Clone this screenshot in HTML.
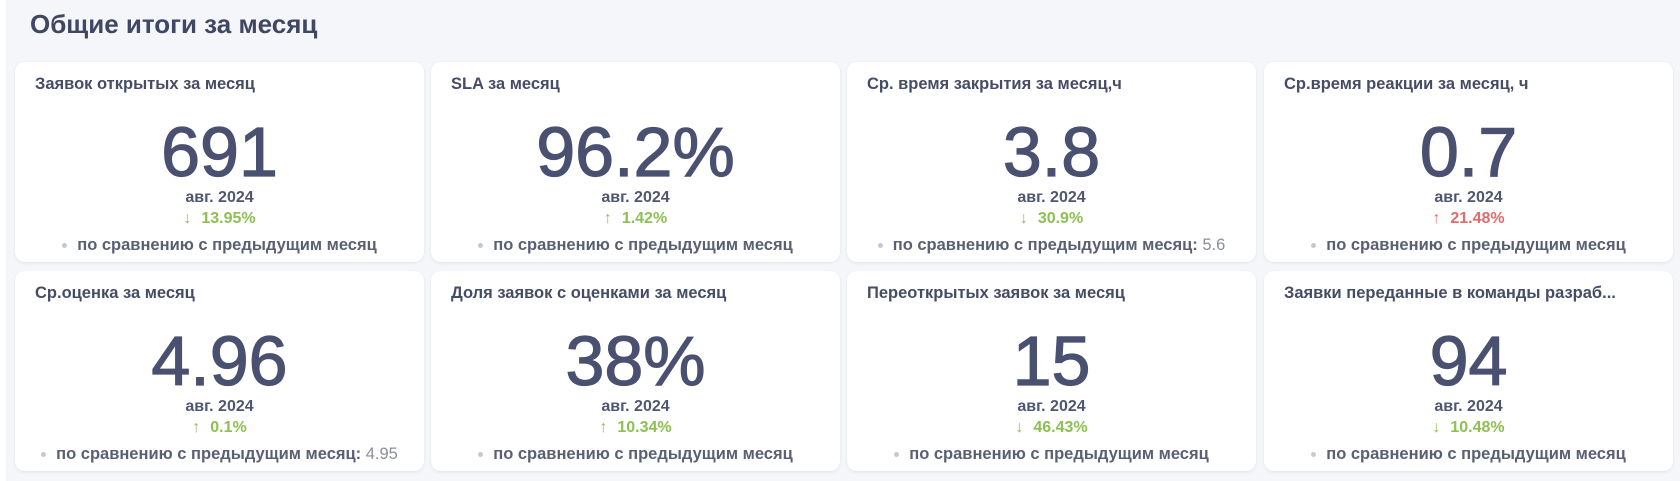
<!DOCTYPE html>
<html><head><meta charset="utf-8"><style>
body{margin:0;width:1680px;height:481px;background:#fff;font-family:"Liberation Sans","Noto Sans CJK SC",sans-serif;overflow:hidden}
.panel{position:absolute;left:6px;top:0;width:1674px;height:481px;background:#f4f6f9}
h1{position:absolute;left:30px;top:9px;margin:0;font-size:26px;font-weight:bold;color:#3f4763}
.card{position:absolute;width:409px;height:200px;background:#fff;border-radius:10px;box-shadow:0 1px 3px rgba(0,0,0,.08)}
.t{position:absolute;left:20px;top:13px;font-size:16.5px;font-weight:bold;color:#454c66;white-space:nowrap}
.n{position:absolute;left:0;right:0;top:50px;text-align:center;font-size:70px;color:#4a5170;line-height:80px;-webkit-text-stroke:1.2px #4a5170}
.d{position:absolute;left:0;right:0;top:127px;text-align:center;font-size:16px;color:#4f5670;font-weight:bold}
.p{position:absolute;left:0;right:0;top:148px;text-align:center;font-size:16px;color:#8cc152;font-weight:bold}
.p.r{color:#e36b6b}
.p span{font-weight:normal;margin-right:10px}
.c{position:absolute;left:0;right:0;top:174px;text-align:center;font-size:16.5px;color:#5a6074;font-weight:bold}
.c i{display:inline-block;width:5px;height:5px;border-radius:50%;background:#c6c9d1;margin-right:10px;vertical-align:middle}
.c em{font-style:normal;font-weight:normal;color:#8a8f9c}
</style></head><body>
<div class="panel"></div>
<h1>Общие итоги за месяц</h1>

<div class="card" style="left:15px;top:62px"><div class="t">Заявок открытых за месяц</div><div class="n">691</div><div class="d">авг. 2024</div><div class="p"><span>↓</span>13.95%</div><div class="c"><i></i>по сравнению с предыдущим месяц</div></div>
<div class="card" style="left:431px;top:62px"><div class="t">SLA за месяц</div><div class="n">96.2%</div><div class="d">авг. 2024</div><div class="p"><span>↑</span>1.42%</div><div class="c"><i></i>по сравнению с предыдущим месяц</div></div>
<div class="card" style="left:847px;top:62px"><div class="t">Ср. время закрытия за месяц,ч</div><div class="n">3.8</div><div class="d">авг. 2024</div><div class="p"><span>↓</span>30.9%</div><div class="c"><i></i>по сравнению с предыдущим месяц: <em>5.6</em></div></div>
<div class="card" style="left:1264px;top:62px"><div class="t">Ср.время реакции за месяц, ч</div><div class="n">0.7</div><div class="d">авг. 2024</div><div class="p r"><span>↑</span>21.48%</div><div class="c"><i></i>по сравнению с предыдущим месяц</div></div>

<div class="card" style="left:15px;top:271px"><div class="t">Ср.оценка за месяц</div><div class="n">4.96</div><div class="d">авг. 2024</div><div class="p"><span>↑</span>0.1%</div><div class="c"><i></i>по сравнению с предыдущим месяц: <em>4.95</em></div></div>
<div class="card" style="left:431px;top:271px"><div class="t">Доля заявок с оценками за месяц</div><div class="n">38%</div><div class="d">авг. 2024</div><div class="p"><span>↑</span>10.34%</div><div class="c"><i></i>по сравнению с предыдущим месяц</div></div>
<div class="card" style="left:847px;top:271px"><div class="t">Переоткрытых заявок за месяц</div><div class="n">15</div><div class="d">авг. 2024</div><div class="p"><span>↓</span>46.43%</div><div class="c"><i></i>по сравнению с предыдущим месяц</div></div>
<div class="card" style="left:1264px;top:271px"><div class="t">Заявки переданные в команды разраб...</div><div class="n">94</div><div class="d">авг. 2024</div><div class="p"><span>↓</span>10.48%</div><div class="c"><i></i>по сравнению с предыдущим месяц</div></div>
</body></html>
